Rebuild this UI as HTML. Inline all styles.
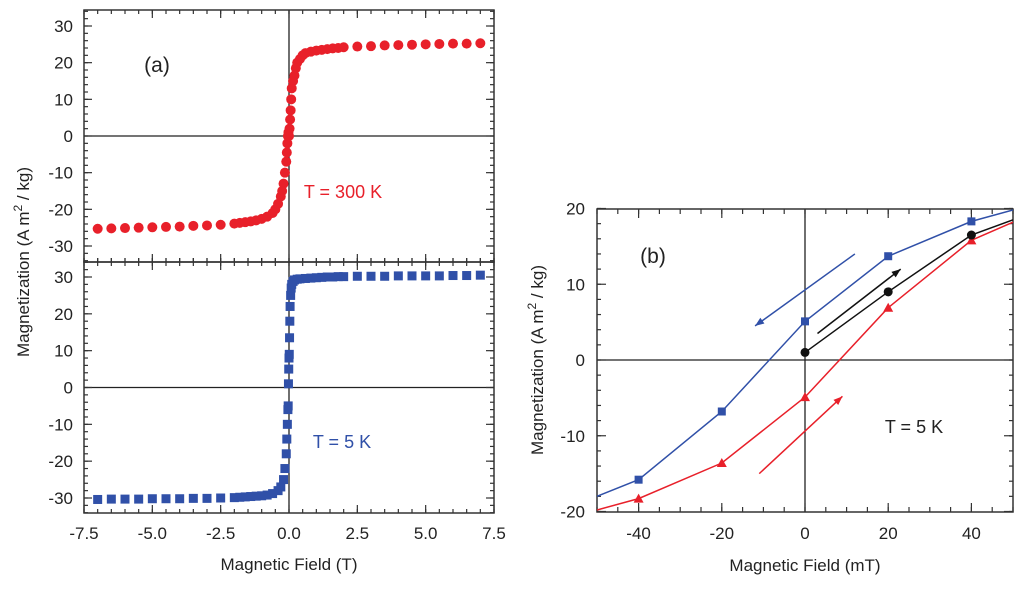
<!DOCTYPE html>
<html><head><meta charset="utf-8"><style>
body{margin:0;background:#fff;}
svg text{font-family:"Liberation Sans",sans-serif;fill:#222;}
</style></head><body>
<svg id="s" width="1024" height="585" viewBox="0 0 1024 585" xmlns="http://www.w3.org/2000/svg"></svg>
<script>
// Panel (a) data
const aXTicks=[-7.5,-5.0,-2.5,0.0,2.5,5.0,7.5];
const aYTicks=[-30,-20,-10,0,10,20,30];
const redX=[-7,-6.5,-6,-5.5,-5,-4.5,-4,-3.5,-3,-2.5,-2,-1.8,-1.6,-1.4,-1.2,-1.0,-0.8,-0.6,-0.5,-0.4,-0.3,-0.25,-0.2,-0.15,-0.1,-0.08,-0.06,-0.04,-0.02,0,0.02,0.04,0.06,0.08,0.1,0.15,0.2,0.25,0.3,0.4,0.5,0.6,0.8,1.0,1.2,1.4,1.6,1.8,2.0,2.5,3,3.5,4,4.5,5,5.5,6,6.5,7];
const redY=[-25.3,-25.2,-25.1,-25,-24.9,-24.8,-24.7,-24.5,-24.4,-24.2,-23.9,-23.7,-23.5,-23.3,-23,-22.6,-22,-21,-20,-18.5,-16.5,-15,-13,-10,-7,-4.5,-2,0,1,0,2,4.5,7,10,13,15,16.5,18.5,20,21,22,22.6,23,23.3,23.5,23.7,23.9,24,24.2,24.4,24.5,24.7,24.8,24.9,25,25.1,25.2,25.2,25.3];
const blueX=[-7,-6.5,-6,-5.5,-5,-4.5,-4,-3.5,-3,-2.5,-2,-1.8,-1.6,-1.4,-1.2,-1.0,-0.8,-0.6,-0.4,-0.3,-0.2,-0.15,-0.1,-0.08,-0.06,-0.04,-0.03,-0.02,-0.01,0,0.01,0.02,0.03,0.04,0.06,0.08,0.1,0.15,0.2,0.3,0.4,0.6,0.8,1.0,1.2,1.4,1.6,1.8,2.0,2.5,3,3.5,4,4.5,5,5.5,6,6.5,7];
const blueY=[-30.4,-30.3,-30.3,-30.3,-30.2,-30.2,-30.2,-30.1,-30.1,-30,-29.9,-29.8,-29.7,-29.6,-29.5,-29.4,-29.2,-28.8,-28,-27,-25,-22,-18,-14,-10,-6,-5,1,5,8,9,13.5,18,22,25,27,28,28.8,29.2,29.4,29.5,29.6,29.7,29.8,29.9,30,30,30.1,30.1,30.2,30.2,30.2,30.3,30.3,30.3,30.3,30.4,30.4,30.5];
// Panel (b) data
const bXTicks=[-40,-20,0,20,40];
const bYTicks=[-20,-10,0,10,20];
const bBlueX=[-50,-40,-20,0,20,40,50];
const bBlueY=[-18,-15.8,-6.8,5.1,13.7,18.3,19.8];
const bRedX=[-50,-40,-20,0,20,40,50];
const bRedY=[-19.8,-18.3,-13.6,-4.9,6.9,15.8,18.2];
const bBlackX=[0,20,40,50];
const bBlackY=[1,9,16.5,18.5];
const bBlueArrow=[[12,14],[-12,4.5]];
const bBlackArrow=[[3,3.5],[23,12]];
const bRedArrow=[[-11,-15],[9,-4.8]];

const NS="http://www.w3.org/2000/svg";
const svg=document.getElementById('s');
function el(t,a,p){const e=document.createElementNS(NS,t);for(const k in a)e.setAttribute(k,a[k]);(p||svg).appendChild(e);return e;}
function txt(x,y,s,size,anchor,fill,rot){const e=el('text',{x:x,y:y,'font-size':size,'text-anchor':anchor||'middle'});if(fill)e.setAttribute('style','fill:'+fill);if(rot)e.setAttribute('transform',rot);e.textContent=s;return e;}

const ax=v=>289+v*(205/7.5);
const ayTop=v=>136-v*(110/30);
const ayBot=v=>387.5-v*(110.5/30);
const bx=v=>805+v*4.16;
const by=v=>360-v*7.575;

function frame(x0,y0,x1,y1,name){
  const r=el('rect',{x:x0,y:y0,width:x1-x0,height:y1-y0,fill:'none',stroke:'#333','stroke-width':1.5});
  
  
}
function ticksX(xs,scale,y0,y1,len){
  xs.forEach(v=>{const X=scale(v);el('line',{x1:X,y1:y0,x2:X,y2:y0+len,stroke:'#333','stroke-width':1.2});el('line',{x1:X,y1:y1,x2:X,y2:y1-len,stroke:'#333','stroke-width':1.2});});
}
function ticksY(ys,scale,x0,x1,len){
  ys.forEach(v=>{const Y=scale(v);el('line',{x1:x0,y1:Y,x2:x0+len,y2:Y,stroke:'#333','stroke-width':1.2});el('line',{x1:x1,y1:Y,x2:x1-len,y2:Y,stroke:'#333','stroke-width':1.2});});
}
const rng=(a,b,s)=>{const r=[];for(let v=a;v<=b+1e-9;v+=s)r.push(+v.toFixed(3));return r;};

frame(84,10,494,262,'panel-a-top-frame');
frame(84,262,494,513,'panel-a-bottom-frame');
el('line',{x1:84,y1:ayTop(0),x2:494,y2:ayTop(0),stroke:'#222','stroke-width':1.3});
el('line',{x1:ax(0),y1:10,x2:ax(0),y2:513,stroke:'#222','stroke-width':1.3});
el('line',{x1:84,y1:ayBot(0),x2:494,y2:ayBot(0),stroke:'#222','stroke-width':1.3});
ticksX(rng(-7.5,7.5,0.5),ax,10,262,4);ticksX(aXTicks,ax,10,262,8);
ticksX(rng(-7.5,7.5,0.5),ax,262,513,4);ticksX(aXTicks,ax,262,513,8);
rng(-7.5,7.5,0.5).forEach(v=>el('line',{x1:ax(v),y1:262,x2:ax(v),y2:258,stroke:'#333','stroke-width':1.2}));
ticksY(rng(-34,34,2),ayTop,84,494,4);ticksY(aYTicks,ayTop,84,494,8);
ticksY(rng(-34,34,2),ayBot,84,494,4);ticksY(aYTicks,ayBot,84,494,8);
aYTicks.forEach(v=>{const t=txt(73,ayTop(v)+6,String(v),17,'end');});
aYTicks.forEach(v=>{const t=txt(73,ayBot(v)+6,String(v),17,'end');});
aXTicks.forEach(v=>{const t=txt(ax(v),539,v.toFixed(1),17,'middle');});
redX.forEach((v,i)=>{const c=el('circle',{cx:ax(v),cy:ayTop(redY[i]),r:5,fill:'#e8202a'});});
blueX.forEach((v,i)=>{const s=el('rect',{x:ax(v)-4.5,y:ayBot(blueY[i])-4.5,width:9,height:9,fill:'#3050a8'});});
let t;
t=txt(157,72,'(a)',21,'middle');
t=txt(343,198,'T = 300 K',18,'middle','#e8202a');
t=txt(342,448,'T = 5 K',18,'middle','#3050a8');
t=txt(289,570,'Magnetic Field (T)',17,'middle');
t=txt(0,0,'',17,'middle',null,'translate(29,262) rotate(-90)');t.innerHTML='Magnetization (A m<tspan dy="-7" font-size="12">2</tspan><tspan dy="7"> / kg)</tspan>';

frame(597,209,1013,512,'panel-b-frame');
el('line',{x1:597,y1:by(0),x2:1013,y2:by(0),stroke:'#222','stroke-width':1.3});
el('line',{x1:bx(0),y1:209,x2:bx(0),y2:512,stroke:'#222','stroke-width':1.3});
ticksX(rng(-50,50,5),bx,209,512,5);ticksX(bXTicks,bx,209,512,9);
ticksY(rng(-20,20,2),by,597,1013,4);ticksY(bYTicks,by,597,1013,9);
bXTicks.forEach(v=>{const t=txt(bx(v),539,String(v),17,'middle');});
bYTicks.forEach(v=>{const t=txt(585,by(v)+6,String(v),17,'end');});
const clip=el('clipPath',{id:'cb'});el('rect',{x:597,y:209,width:416,height:303},clip);
function series(xs,ys,color,name){const d=xs.map((v,i)=>(i?'L':'M')+bx(v)+' '+by(ys[i])).join(' ');const p=el('path',{d:d,fill:'none',stroke:color,'stroke-width':1.5,'clip-path':'url(#cb)'});}
series(bBlueX,bBlueY,'#3050a8','line-descending');
series(bRedX,bRedY,'#e8202a','line-ascending');
series(bBlackX,bBlackY,'#111','line-virgin');
bBlueX.forEach((v,i)=>{if(Math.abs(v)<50){const s=el('rect',{x:bx(v)-4,y:by(bBlueY[i])-4,width:8,height:8,fill:'#3050a8'});}});
bRedX.forEach((v,i)=>{if(Math.abs(v)<50){const X=bx(v),Y=by(bRedY[i]);const s=el('polygon',{points:`${X},${Y-5} ${X-5},${Y+4} ${X+5},${Y+4}`,fill:'#e8202a'});}});
bBlackX.forEach((v,i)=>{if(Math.abs(v)<50){const c=el('circle',{cx:bx(v),cy:by(bBlackY[i]),r:4.5,fill:'#111'});}});
function arrow(pts,color,name){const x1=bx(pts[0][0]),y1=by(pts[0][1]),x2=bx(pts[1][0]),y2=by(pts[1][1]);
  const g=el('g',{});
  el('line',{x1:x1,y1:y1,x2:x2,y2:y2,stroke:color,'stroke-width':1.5},g);
  const a=Math.atan2(y2-y1,x2-x1),L=9,W=3.5;
  const px=x2-L*Math.cos(a),py=y2-L*Math.sin(a);
  el('polygon',{points:`${x2},${y2} ${px-W*Math.sin(a)},${py+W*Math.cos(a)} ${px+W*Math.sin(a)},${py-W*Math.cos(a)}`,fill:color},g);}
arrow(bBlueArrow,'#3050a8','arrow-descending');
arrow(bBlackArrow,'#111','arrow-virgin');
arrow(bRedArrow,'#e8202a','arrow-ascending');
t=txt(653,263,'(b)',21,'middle');
t=txt(914,433,'T = 5 K',18,'middle');
t=txt(805,571,'Magnetic Field (mT)',17,'middle');
t=txt(0,0,'',17,'middle',null,'translate(543,360) rotate(-90)');t.innerHTML='Magnetization (A m<tspan dy="-7" font-size="12">2</tspan><tspan dy="7"> / kg)</tspan>';
</script>
</body></html>
